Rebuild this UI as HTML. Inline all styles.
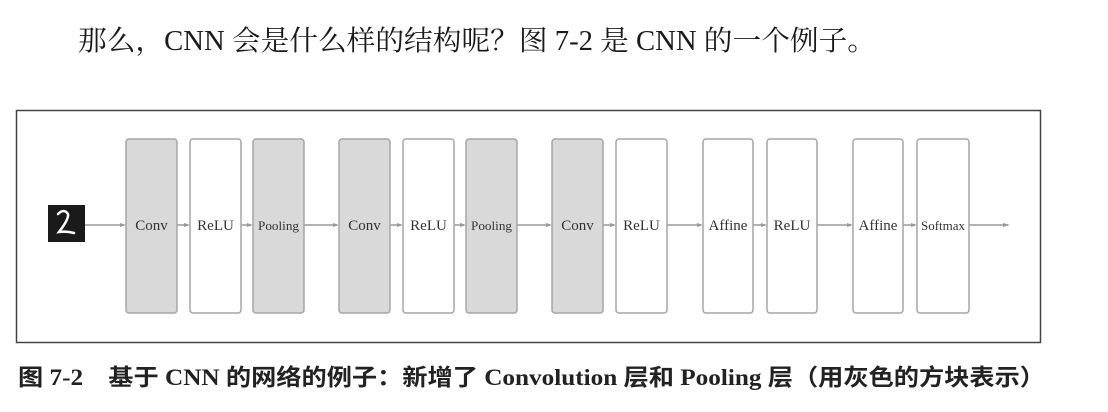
<!DOCTYPE html>
<html><head><meta charset="utf-8"><style>
html,body{margin:0;padding:0;background:#fff;width:1108px;height:412px;overflow:hidden}
</style></head><body>
<svg width="1108" height="412" xmlns="http://www.w3.org/2000/svg">
<text x="78" y="50" font-family="'Liberation Serif','Noto Serif CJK SC',serif" font-size="28" fill="#1a1a1a" textLength="798" lengthAdjust="spacingAndGlyphs">那么，CNN 会是什么样的结构呢？图 7-2 是 CNN 的一个例子。</text>
<rect x="16.5" y="110.5" width="1024" height="232" fill="#fff" stroke="#444" stroke-width="1.5"/>
<rect x="48" y="205" width="37" height="37" fill="#1a1a1a"/>
<path d="M58 214 q6 -6 10 0 q1 5 -9 18 q8 -1 15 1" fill="none" stroke="#fff" stroke-width="2.5" stroke-linecap="round"/>
<g stroke="#999" stroke-width="1.5">
<line x1="85" y1="225" x2="124" y2="225"/><line x1="177" y1="225" x2="188" y2="225"/>
<line x1="241" y1="225" x2="251" y2="225"/><line x1="304" y1="225" x2="337" y2="225"/>
<line x1="390" y1="225" x2="401" y2="225"/><line x1="454" y1="225" x2="464" y2="225"/>
<line x1="517" y1="225" x2="550" y2="225"/><line x1="603" y1="225" x2="614" y2="225"/>
<line x1="667" y1="225" x2="701" y2="225"/><line x1="753" y1="225" x2="765" y2="225"/>
<line x1="817" y1="225" x2="851" y2="225"/><line x1="903" y1="225" x2="915" y2="225"/>
<line x1="969" y1="225" x2="1008" y2="225"/>
</g>
<g fill="#999">
<path d="M126 225 l-6 -2 v4z"/><path d="M190 225 l-6 -2 v4z"/><path d="M253 225 l-6 -2 v4z"/>
<path d="M339 225 l-6 -2 v4z"/><path d="M403 225 l-6 -2 v4z"/><path d="M466 225 l-6 -2 v4z"/>
<path d="M552 225 l-6 -2 v4z"/><path d="M616 225 l-6 -2 v4z"/><path d="M703 225 l-6 -2 v4z"/>
<path d="M767 225 l-6 -2 v4z"/><path d="M853 225 l-6 -2 v4z"/><path d="M917 225 l-6 -2 v4z"/>
<path d="M1010 225 l-7 -2 v4z"/>
</g>
<g stroke="#a6a6a6" stroke-width="1.5">
<rect x="126" y="139" width="51" height="174" rx="3" fill="#d9d9d9"/>
<rect x="190" y="139" width="51" height="174" rx="3" fill="#fff"/>
<rect x="253" y="139" width="51" height="174" rx="3" fill="#d9d9d9"/>
<rect x="339" y="139" width="51" height="174" rx="3" fill="#d9d9d9"/>
<rect x="403" y="139" width="51" height="174" rx="3" fill="#fff"/>
<rect x="466" y="139" width="51" height="174" rx="3" fill="#d9d9d9"/>
<rect x="552" y="139" width="51" height="174" rx="3" fill="#d9d9d9"/>
<rect x="616" y="139" width="51" height="174" rx="3" fill="#fff"/>
<rect x="703" y="139" width="50" height="174" rx="3" fill="#fff"/>
<rect x="767" y="139" width="50" height="174" rx="3" fill="#fff"/>
<rect x="853" y="139" width="50" height="174" rx="3" fill="#fff"/>
<rect x="917" y="139" width="52" height="174" rx="3" fill="#fff"/>
</g>
<g font-family="'Liberation Serif',serif" font-size="15" fill="#333" text-anchor="middle">
<text x="151.5" y="230">Conv</text><text x="215.5" y="230">ReLU</text>
<text x="278.5" y="230" font-size="13" textLength="41" lengthAdjust="spacingAndGlyphs">Pooling</text>
<text x="364.5" y="230">Conv</text><text x="428.5" y="230">ReLU</text>
<text x="491.5" y="230" font-size="13" textLength="41" lengthAdjust="spacingAndGlyphs">Pooling</text>
<text x="577.5" y="230">Conv</text><text x="641.5" y="230">ReLU</text>
<text x="728" y="230">Affine</text><text x="792" y="230">ReLU</text>
<text x="878" y="230">Affine</text>
<text x="943" y="230" font-size="13" textLength="44" lengthAdjust="spacingAndGlyphs">Softmax</text>
</g>
<text x="18" y="385" font-family="'Liberation Serif','Noto Sans CJK SC',serif" font-size="23" font-weight="bold" fill="#222" textLength="1027" lengthAdjust="spacingAndGlyphs">图 7-2　基于 CNN 的网络的例子：新增了 Convolution 层和 Pooling 层（用灰色的方块表示）</text>
</svg>
</body></html>
